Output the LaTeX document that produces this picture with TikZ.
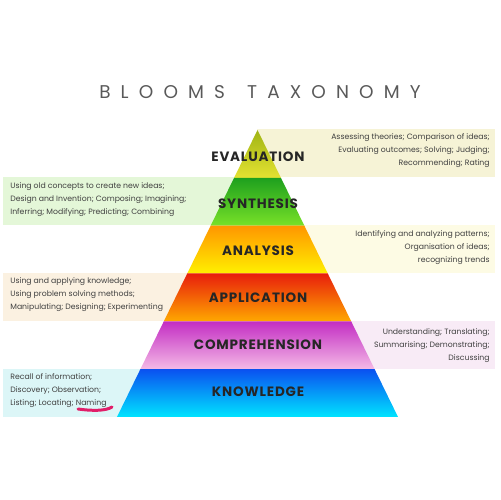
\documentclass[tikz,border=0pt]{standalone}
\usepackage{fontspec}
\setmainfont{Poppins}
\newfontfamily\titlefont[LetterSpace=55]{Poppins}
\newfontfamily\levelfont[LetterSpace=6]{Poppins}
\definecolor{topev}{RGB}{160,180,20}
\definecolor{botev}{RGB}{228,226,50}
\definecolor{topsy}{RGB}{30,160,30}
\definecolor{botsy}{RGB}{120,225,40}
\definecolor{topan}{RGB}{255,150,0}
\definecolor{botan}{RGB}{255,240,0}
\definecolor{topap}{RGB}{232,30,12}
\definecolor{botap}{RGB}{255,168,0}
\definecolor{topco}{RGB}{195,45,195}
\definecolor{botco}{RGB}{244,186,230}
\definecolor{topkn}{RGB}{10,80,240}
\definecolor{botkn}{RGB}{0,228,255}
\definecolor{boxev}{RGB}{246,243,214}
\definecolor{boxsy}{RGB}{228,247,216}
\definecolor{boxan}{RGB}{253,251,228}
\definecolor{boxap}{RGB}{251,241,225}
\definecolor{boxco}{RGB}{248,235,246}
\definecolor{boxkn}{RGB}{220,246,247}
\definecolor{marker}{RGB}{225,30,105}

\begin{document}
\begin{tikzpicture}[x=0.02cm,y=-0.02cm,
        level/.style={font=\levelfont\bfseries\fontsize{7.7}{7.7}\selectfont,text=black!85},
        note/.style={font=\fontsize{4.4}{7.4}\selectfont,text=black!75,inner sep=0pt}]
    \useasboundingbox (0,0) rectangle (500,500);
    \node (title) at (260,92) {\titlefont\fontsize{10.5}{10.5}\selectfont\color{black!65}BLOOMS\hspace{1.2em}TAXONOMY};
    \fill[boxev] (257,129) rectangle (495,177);
    \fill[boxsy] (3,177) rectangle (257,225);
    \fill[boxan] (257,225) rectangle (495,273);
    \fill[boxap] (3,273) rectangle (257,321);
    \fill[boxco] (257,321) rectangle (495,369);
    \fill[boxkn] (3,369) rectangle (257,417);
    \foreach \n/\c in {0/ev,1/sy,2/an,3/ap,4/co,5/kn}
    {
        \pgfmathsetmacro\yt{130+47.83*\n}
        \pgfmathsetmacro\yb{\yt+47.83}
        \pgfmathsetmacro\wt{23.42*\n}
        \pgfmathsetmacro\wb{\wt+23.42}
        \shade[top color=top\c,bottom color=bot\c] (257.5-\wt,\yt) -- (257.5+\wt,\yt) -- (257.5+\wb,\yb) -- (257.5-\wb,\yb) -- cycle;
    }
    \node[level] (ev) at (258,157) {EVALUATION};
    \node[level] (sy) at (258,204) {SYNTHESIS};
    \node[level] (an) at (258,251) {ANALYSIS};
    \node[level] (ap) at (258,298) {APPLICATION};
    \node[level] (co) at (258,345) {COMPREHENSION};
    \node[level] (kn) at (258,392) {KNOWLEDGE};
    \node[note,anchor=east,align=right] (evtxt) at (490,151) {Assessing theories; Comparison of ideas;\\Evaluating outcomes; Solving; Judging;\\Recommending; Rating};
    \node[note,anchor=west,align=left] (sytxt) at (10,200) {Using old concepts to create new ideas;\\Design and Invention; Composing; Imagining;\\Inferring; Modifying; Predicting; Combining};
    \node[note,anchor=east,align=right] (antxt) at (490,248) {Identifying and analyzing patterns;\\Organisation of ideas;\\recognizing trends};
    \node[note,anchor=west,align=left] (aptxt) at (10,295) {Using and applying knowledge;\\Using problem solving methods;\\Manipulating; Designing; Experimenting};
    \node[note,anchor=east,align=right] (cotxt) at (490,346) {Understanding; Translating;\\Summarising; Demonstrating;\\Discussing};
    \node[note,anchor=west,align=left] (kntxt) at (10,391) {Recall of information;\\Discovery; Observation;\\Listing; Locating; Naming};
    \draw[marker,line width=1.7pt,line cap=round] (78,409) .. controls (92,411) and (106,411) .. (112,407);
\end{tikzpicture}
\end{document}
